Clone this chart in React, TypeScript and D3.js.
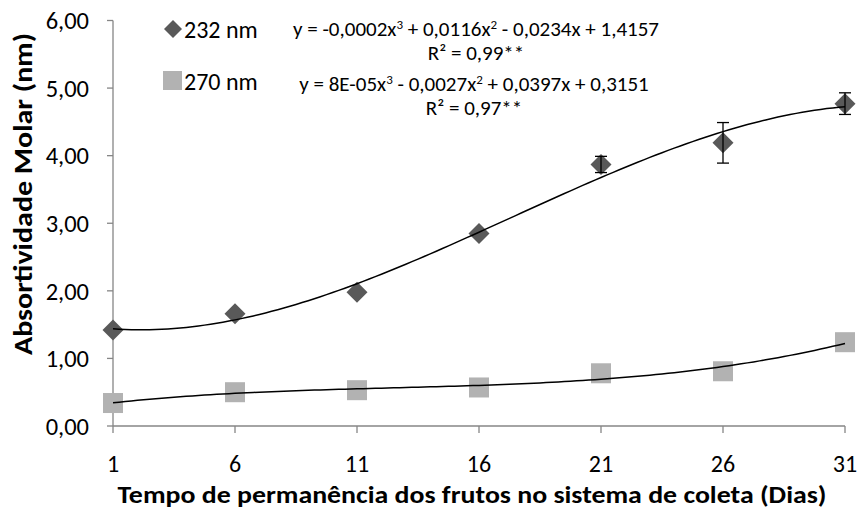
import React from "react";
import * as d3 from "d3";

const days = [1, 6, 11, 16, 21, 26, 31];
const abs232 = [1.42, 1.66, 1.98, 2.85, 3.87, 4.19, 4.77];
const err232 = [0, 0, 0, 0, 0.12, 0.3, 0.16];
const abs270 = [0.34, 0.5, 0.53, 0.57, 0.78, 0.81, 1.24];
const yTicks = [0, 1, 2, 3, 4, 5, 6];
const xTicks = [1, 6, 11, 16, 21, 26, 31];
const seriesNames = ["232 nm", "270 nm"];

function cubicFit(xs: number[], ys: number[]) {
  const n = 4;
  const A: number[][] = [];
  for (let i = 0; i < n; i++) {
    A.push(new Array(n + 1).fill(0));
    for (let j = 0; j < n; j++) {
      A[i][j] = xs.reduce((s, x) => s + Math.pow(x, i + j), 0);
    }
    A[i][n] = xs.reduce((s, x, k) => s + Math.pow(x, i) * ys[k], 0);
  }
  for (let c = 0; c < n; c++) {
    let p = c;
    for (let r = c + 1; r < n; r++) if (Math.abs(A[r][c]) > Math.abs(A[p][c])) p = r;
    [A[c], A[p]] = [A[p], A[c]];
    for (let r = 0; r < n; r++) {
      if (r === c) continue;
      const f = A[r][c] / A[c][c];
      for (let k = c; k <= n; k++) A[r][k] -= f * A[c][k];
    }
  }
  const coef = A.map((row, i) => row[n] / row[i]);
  return (x: number) => coef[0] + coef[1] * x + coef[2] * x * x + coef[3] * x * x * x;
}

const FONT = "Carlito, Lato, 'Liberation Sans', sans-serif";

export default function App() {
  const W = 860, H = 509;
  const x = d3.scaleLinear().domain([1, 31]).range([113, 845]);
  const y = d3.scaleLinear().domain([0, 6]).range([426, 20.5]);
  const axisColor = "#868686";
  const f232 = cubicFit(days, abs232);
  const f270 = cubicFit(days, abs270);
  const samples = d3.range(1, 31.01, 0.25);
  const path232 = d3.line<number>().x((d) => x(d)).y((d) => y(f232(d)))(samples) as string;
  const path270 = d3.line<number>().x((d) => x(d)).y((d) => y(f270(d)))(samples) as string;
  const diamond = (cx: number, cy: number, r: number) =>
    `M${cx},${cy - r}L${cx + r},${cy}L${cx},${cy + r}L${cx - r},${cy}Z`;
  const fmt = (v: number) => v.toFixed(2).replace(".", ",");

  return (
    <svg width={W} height={H} style={{ position: "absolute", left: 0, top: 0, background: "#fff" }} fontFamily={FONT}>
      {/* y axis */}
      <line x1={x(1)} x2={x(1)} y1={y(6)} y2={y(0)} stroke={axisColor} strokeWidth={1.3} />
      {yTicks.map((t) => (
        <g key={"y" + t}>
          <line x1={x(1) - 6} x2={x(1)} y1={y(t)} y2={y(t)} stroke={axisColor} strokeWidth={1.3} />
          <text x={89} y={y(t)} dy="0.36em" textAnchor="end" fontSize={24.5} fill="#000">{fmt(t)}</text>
        </g>
      ))}
      {/* x axis */}
      <line x1={x(1)} x2={x(31)} y1={y(0)} y2={y(0)} stroke={axisColor} strokeWidth={1.3} />
      {xTicks.map((t) => (
        <g key={"x" + t}>
          <line x1={x(t)} x2={x(t)} y1={y(0)} y2={y(0) + 7} stroke={axisColor} strokeWidth={1.3} />
          <text x={x(t)} y={472} textAnchor="middle" fontSize={24} fill="#000">{t}</text>
        </g>
      ))}
      <text x={472} y={503} textAnchor="middle" fontSize={24} fontWeight="bold" textLength={709} lengthAdjust="spacingAndGlyphs">
        Tempo de permanência dos frutos no sistema de coleta (Dias)
      </text>
      <text transform={`translate(32,194) rotate(-90)`} textAnchor="middle" fontSize={26} fontWeight="bold" textLength={322} lengthAdjust="spacingAndGlyphs">
        Absortividade Molar (nm)
      </text>
      {/* markers 270 */}
      {days.map((d, i) => (
        <rect key={"s" + i} x={x(d) - 10} y={y(abs270[i]) - 10} width={20} height={20} fill="#b2b2b2" />
      ))}
      {/* markers 232 */}
      {days.map((d, i) => (
        <path key={"d" + i} d={diamond(x(d), y(abs232[i]), 10.5)} fill="#595959" />
      ))}
      {/* error bars */}
      {days.map((d, i) =>
        err232[i] > 0 ? (
          <g key={"e" + i} stroke="#000" strokeWidth={1.3}>
            <line x1={x(d)} x2={x(d)} y1={y(abs232[i] + err232[i])} y2={y(abs232[i] - err232[i])} />
            <line x1={x(d) - 6} x2={x(d) + 6} y1={y(abs232[i] + err232[i])} y2={y(abs232[i] + err232[i])} />
            <line x1={x(d) - 6} x2={x(d) + 6} y1={y(abs232[i] - err232[i])} y2={y(abs232[i] - err232[i])} />
          </g>
        ) : null
      )}
      {/* trendlines */}
      <path d={path232} fill="none" stroke="#000" strokeWidth={1.5} />
      <path d={path270} fill="none" stroke="#000" strokeWidth={1.5} />
      {/* legend */}
      <path d={diamond(173, 29, 9)} fill="#595959" />
      <text x={184} y={29} dy="0.36em" fontSize={24}>{seriesNames[0]}</text>
      <rect x={163} y={71} width={19} height={19} fill="#b2b2b2" />
      <text x={184} y={81} dy="0.36em" fontSize={24}>{seriesNames[1]}</text>
      {/* equations */}
      <text x={476} y={36} textAnchor="middle" fontSize={21}>
        y = -0,0002x<tspan dy={-7} fontSize={13}>3</tspan><tspan dy={7}> + 0,0116x</tspan>
        <tspan dy={-7} fontSize={13}>2</tspan><tspan dy={7}> - 0,0234x + 1,4157</tspan>
      </text>
      <text x={476} y={60} textAnchor="middle" fontSize={21}>R² = 0,99**</text>
      <text x={474} y={91} textAnchor="middle" fontSize={21}>
        y = 8E-05x<tspan dy={-7} fontSize={13}>3</tspan><tspan dy={7}> - 0,0027x</tspan>
        <tspan dy={-7} fontSize={13}>2</tspan><tspan dy={7}> + 0,0397x + 0,3151</tspan>
      </text>
      <text x={474} y={115} textAnchor="middle" fontSize={21}>R² = 0,97**</text>
    </svg>
  );
}
